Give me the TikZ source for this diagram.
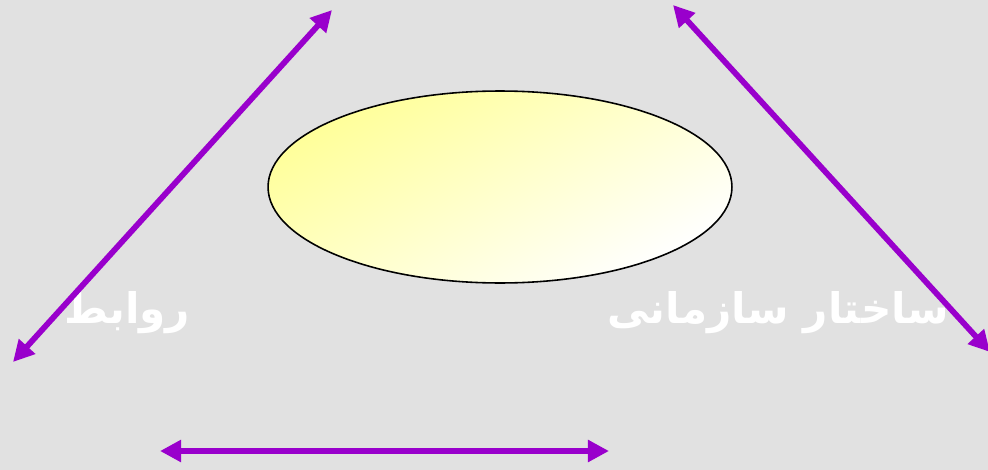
\documentclass[tikz,border=0pt]{standalone}
\usepackage{fontspec}
\usetikzlibrary{shapes.geometric,arrows.meta}
\newfontfamily\arabicfont[Script=Arabic]{DejaVu Sans}
\TeXXeTstate=1
\definecolor{slidegray}{RGB}{225,225,225}
\definecolor{linkpurple}{RGB}{153,0,204}
\definecolor{paleyellow}{RGB}{255,255,153}

\begin{document}
\begin{tikzpicture}[
    x=0.02cm, y=-0.02cm,
    link/.style={linkpurple, line width=3.3pt, {Triangle[length=12pt,width=12pt]}-{Triangle[length=12pt,width=12pt]}},
    word/.style={text=white, font=\arabicfont\bfseries\fontsize{24}{28}\selectfont},
    core/.style={ellipse, draw=black, line width=0.9pt, minimum width=9.28cm, minimum height=3.84cm,
        top color=paleyellow, bottom color=white, shading angle=30}
]
    \fill[slidegray] (0,0) rectangle (988,470);
    \useasboundingbox (0,0) rectangle (988,470);

    \node[core] (hub) at (500,187) {};

    \node[word] (rel) at (127,313) {\beginR روابط\endR};
    \node[word] (org) at (778,313) {\beginR ساختار سازمانی\endR};

    % free ends of the arrows
    \coordinate (leftA) at (13,362);
    \coordinate (leftB) at (332,10);
    \coordinate (rightA) at (673,5);
    \coordinate (rightB) at (990,352);
    \coordinate (baseA) at (160,451);
    \coordinate (baseB) at (609,451);

    \draw[link] (leftA) -- (leftB);
    \draw[link] (rightA) -- (rightB);
    \draw[link] (baseA) -- (baseB);
\end{tikzpicture}
\end{document}
